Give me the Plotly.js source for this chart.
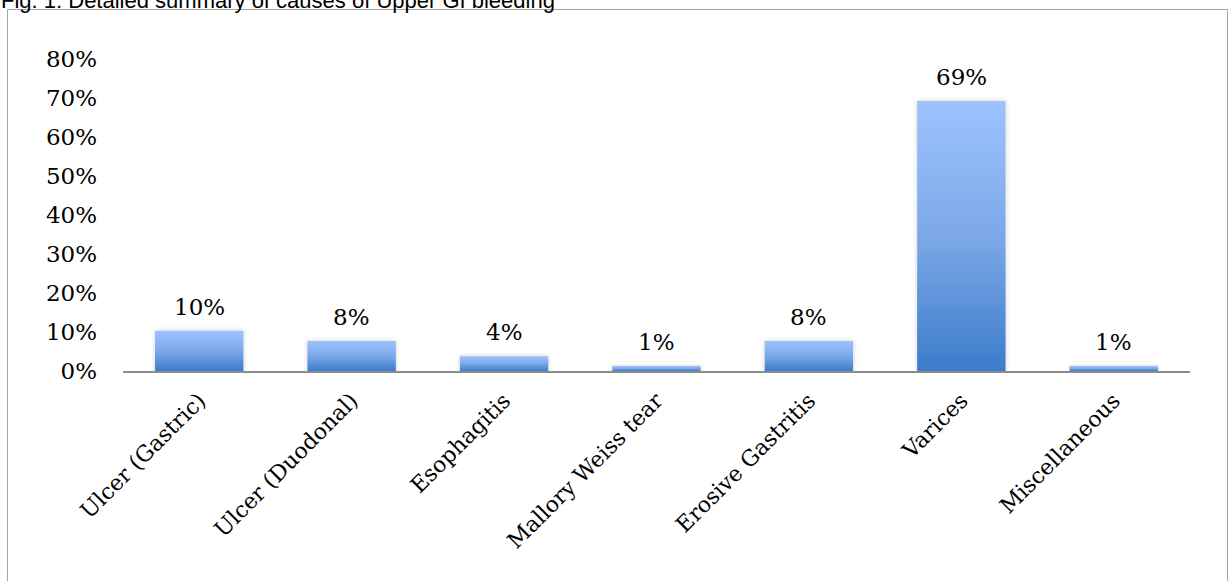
<!DOCTYPE html>
<html>
<head>
<meta charset="utf-8">
<script src="https://cdn.plot.ly/plotly-3.0.1.min.js"></script>
<style>
html,body{margin:0;padding:0;background:#fff;}
#chart{width:1228px;height:581px;}
</style>
</head>
<body>
<div id="chart"></div>
<script>
const categories = ["Ulcer (Gastric)", "Ulcer (Duodonal)", "Esophagitis", "Mallory Weiss tear", "Erosive Gastritis", "Varices", "Miscellaneous"];
const percentValues = [10.3, 7.7, 3.8, 1.3, 7.7, 69.2, 1.3];
const valueLabels = ["10%", "8%", "4%", "1%", "8%", "69%", "1%"];
const yTickValues = [0, 10, 20, 30, 40, 50, 60, 70, 80];
const yTickLabels = ["0%", "10%", "20%", "30%", "40%", "50%", "60%", "70%", "80%"];
const titleText = "Fig. 1: Detailed summary of causes of Upper GI bleeding";

const W = 1228, H = 581;
const M = {l: 123, r: 38, t: 59, b: 210};
const pw = W - M.l - M.r, ph = H - M.t - M.b;
const px = x => (x - M.l) / pw;          // pixel -> paper x
const py = y => (H - M.b - y) / ph;      // pixel -> paper y

const serif = "DejaVu Serif, serif";

const trace = {
  type: "bar",
  x: categories,
  y: percentValues,
  marker: {color: "#6C9DE0", line: {width: 0}},
  hoverinfo: "skip"
};

const annotations = categories.map((c, i) => ({
  x: c, y: percentValues[i], xref: "x", yref: "y",
  text: valueLabels[i], showarrow: false,
  yanchor: "bottom", yshift: 9,
  font: {family: serif, size: 23, color: "#000"}
}));

annotations.push({
  xref: "paper", yref: "paper", x: px(-1), y: py(0.5),
  xanchor: "left", yanchor: "middle", showarrow: false,
  text: titleText,
  font: {family: "Liberation Sans, Arial, sans-serif", size: 22, color: "#000"}
});

const layout = {
  width: W, height: H,
  margin: M,
  paper_bgcolor: "#fff", plot_bgcolor: "#fff",
  showlegend: false,
  bargap: 0.42,
  xaxis: {
    type: "category",
    showline: true, linecolor: "#8c8c8c", linewidth: 2,
    ticks: "", showgrid: false, zeroline: false,
    tickangle: -45,
    ticklabelstandoff: 6,
    tickfont: {family: serif, size: 22, color: "#000"}
  },
  yaxis: {
    range: [0, 80],
    tickvals: yTickValues, ticktext: yTickLabels,
    showline: false, showgrid: false, zeroline: false, ticks: "",
    ticklabelstandoff: 25,
    tickfont: {family: serif, size: 23, color: "#000"}
  },
  annotations: annotations,
  shapes: [{
    type: "rect", xref: "paper", yref: "paper",
    x0: px(7.5), x1: px(1227.5), y0: py(600), y1: py(9.5),
    line: {color: "#a6a6a6", width: 1}, fillcolor: "rgba(0,0,0,0)", layer: "below"
  }]
};

Plotly.newPlot("chart", [trace], layout, {displayModeBar: false, staticPlot: true}).then(gd => {
  const svg = gd.querySelector(".main-svg");
  const ns = "http://www.w3.org/2000/svg";
  let defs = svg.querySelector("defs");
  if (!defs) { defs = document.createElementNS(ns, "defs"); svg.insertBefore(defs, svg.firstChild); }
  const grad = document.createElementNS(ns, "linearGradient");
  grad.setAttribute("id", "barGrad");
  grad.setAttribute("x1", "0"); grad.setAttribute("y1", "0");
  grad.setAttribute("x2", "0"); grad.setAttribute("y2", "1");
  [["0%", "#9DC3FD"], ["50%", "#7CA8E8"], ["100%", "#3C7CCB"]].forEach(([o, c]) => {
    const s = document.createElementNS(ns, "stop");
    s.setAttribute("offset", o); s.setAttribute("stop-color", c);
    grad.appendChild(s);
  });
  defs.appendChild(grad);
  const filt = document.createElementNS(ns, "filter");
  filt.setAttribute("id", "barShadow");
  filt.setAttribute("x", "-20%"); filt.setAttribute("y", "-20%");
  filt.setAttribute("width", "140%"); filt.setAttribute("height", "140%");
  const ds = document.createElementNS(ns, "feDropShadow");
  ds.setAttribute("dx", "0"); ds.setAttribute("dy", "0");
  ds.setAttribute("stdDeviation", "2.5");
  ds.setAttribute("flood-color", "#000"); ds.setAttribute("flood-opacity", "0.18");
  filt.appendChild(ds);
  defs.appendChild(filt);
  gd.querySelectorAll(".barlayer .point path").forEach(p => {
    p.style.fill = "url(#barGrad)";
    p.setAttribute("filter", "url(#barShadow)");
  });
});
</script>
</body>
</html>
